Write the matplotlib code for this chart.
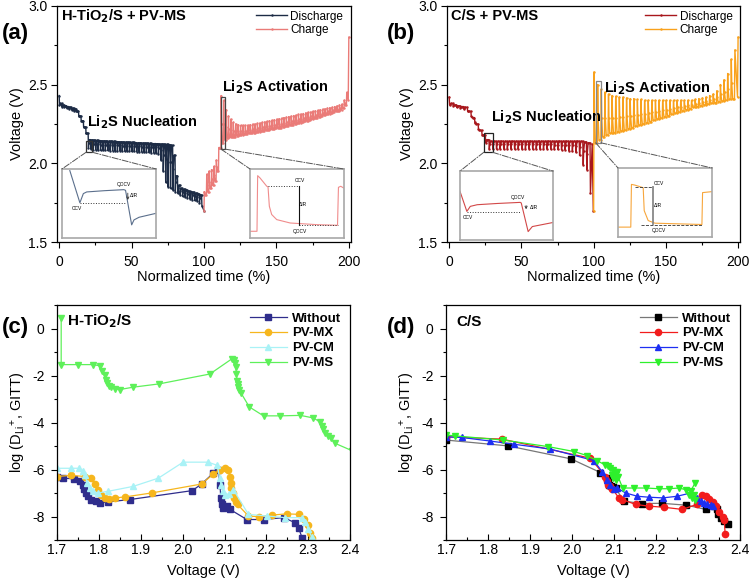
import numpy as np
import matplotlib.pyplot as plt
from matplotlib.patches import Rectangle, ConnectionPatch
from matplotlib.ticker import MultipleLocator

plt.rcParams['font.family'] = ['Liberation Sans', 'DejaVu Sans']
plt.rcParams['axes.unicode_minus'] = False
plt.rcParams['mathtext.default'] = 'regular'

# ---------------- GITT voltage profiles (a) H-TiO2/S + PV-MS ----------------
a_step = 100 / 60
# discharge: rest voltage before each pulse, voltage at end of pulse
a_dis_rest = [2.43, 2.38, 2.37, 2.365, 2.36, 2.355, 2.35, 2.345, 2.33, 2.30,
              2.27, 2.23, 2.19, 2.15, 2.148, 2.146, 2.145, 2.144, 2.143, 2.142,
              2.141, 2.14, 2.14, 2.139, 2.138, 2.137, 2.136, 2.135, 2.135, 2.134,
              2.133, 2.132, 2.131, 2.13, 2.13, 2.129, 2.128, 2.127, 2.126, 2.125,
              2.125, 2.124, 2.123, 2.122, 2.12, 2.12, 2.118, 2.115, 2.05, 1.92,
              1.86, 1.84, 1.835, 1.83, 1.825, 1.82, 1.815, 1.81, 1.805, 1.80]
a_dis_pulse = [2.37, 2.36, 2.355, 2.35, 2.345, 2.34, 2.335, 2.33, 2.30, 2.27,
               2.23, 2.19, 2.10, 2.09, 2.085, 2.085, 2.084, 2.083, 2.083, 2.082,
               2.082, 2.081, 2.08, 2.08, 2.079, 2.079, 2.078, 2.077, 2.077, 2.076,
               2.075, 2.075, 2.074, 2.073, 2.072, 2.071, 2.07, 2.069, 2.068, 2.066,
               2.065, 2.06, 2.02, 1.95, 1.88, 1.85, 1.84, 1.83, 1.82, 1.81,
               1.80, 1.79, 1.785, 1.78, 1.775, 1.77, 1.765, 1.76, 1.75, 1.73]
a_dis_end_t = [100.0]
a_dis_end_v = [1.70]
# charge
a_chg_rest = [1.70, 1.80, 1.82, 1.84, 1.86, 1.89, 1.95, 2.10, 2.13, 2.15,
              2.16, 2.165, 2.17, 2.17, 2.175, 2.178, 2.18, 2.183, 2.186, 2.19,
              2.192, 2.195, 2.198, 2.20, 2.203, 2.206, 2.209, 2.212, 2.215, 2.218,
              2.221, 2.224, 2.227, 2.23, 2.234, 2.238, 2.242, 2.246, 2.25, 2.254,
              2.258, 2.262, 2.266, 2.27, 2.275, 2.28, 2.285, 2.29, 2.295, 2.30,
              2.305, 2.31, 2.315, 2.32, 2.325, 2.33, 2.335, 2.34, 2.35, 2.37]
a_chg_pulse = [1.82, 1.93, 1.95, 1.96, 1.98, 2.02, 2.10, 2.43, 2.40, 2.34,
               2.30, 2.28, 2.26, 2.25, 2.245, 2.24, 2.24, 2.24, 2.242, 2.245,
               2.248, 2.25, 2.253, 2.256, 2.26, 2.263, 2.266, 2.27, 2.273, 2.276,
               2.28, 2.283, 2.286, 2.29, 2.293, 2.296, 2.30, 2.303, 2.306, 2.31,
               2.313, 2.316, 2.32, 2.323, 2.326, 2.33, 2.333, 2.336, 2.34, 2.343,
               2.346, 2.35, 2.353, 2.356, 2.36, 2.365, 2.37, 2.375, 2.40, 2.45]
a_chg_end_t = [199.6, 200.0]
a_chg_end_v = [2.40, 2.80]

# ---------------- GITT voltage profiles (b) C/S + PV-MS ----------------
b_step = 2.5
b_dis_rest = [2.42, 2.38, 2.37, 2.365, 2.36, 2.355, 2.33, 2.29, 2.25, 2.21,
              2.18, 2.15, 2.14, 2.14, 2.14, 2.14, 2.14, 2.14, 2.14, 2.14,
              2.14, 2.14, 2.14, 2.14, 2.14, 2.14, 2.14, 2.14, 2.14, 2.14,
              2.14, 2.14, 2.14, 2.14, 2.14, 2.14, 2.14, 2.14, 2.135, 2.13]
b_dis_pulse = [2.37, 2.365, 2.355, 2.35, 2.345, 2.33, 2.30, 2.26, 2.22, 2.18,
               2.13, 2.09, 2.09, 2.09, 2.09, 2.09, 2.09, 2.09, 2.09, 2.09,
               2.09, 2.09, 2.09, 2.09, 2.09, 2.09, 2.09, 2.09, 2.09, 2.088,
               2.088, 2.085, 2.085, 2.08, 2.075, 2.07, 2.05, 1.99, 1.96, 1.81]
b_dis_end_t = [99.0, 99.8]
b_dis_end_v = [2.12, 1.70]
b_chg_rest = [1.70, 2.13, 2.15, 2.17, 2.18, 2.19, 2.195, 2.20, 2.205, 2.21,
              2.22, 2.227, 2.235, 2.242, 2.25, 2.257, 2.265, 2.272, 2.28, 2.287,
              2.295, 2.30, 2.31, 2.317, 2.325, 2.332, 2.34, 2.347, 2.355, 2.36,
              2.365, 2.37, 2.375, 2.38, 2.385, 2.39, 2.395, 2.40, 2.405, 2.41]
b_chg_pulse = [2.58, 2.50, 2.47, 2.45, 2.44, 2.43, 2.425, 2.42, 2.42, 2.415,
               2.41, 2.41, 2.405, 2.405, 2.40, 2.40, 2.40, 2.40, 2.40, 2.40,
               2.40, 2.40, 2.40, 2.40, 2.40, 2.40, 2.40, 2.40, 2.405, 2.41,
               2.415, 2.42, 2.43, 2.44, 2.46, 2.50, 2.53, 2.57, 2.66, 2.72]
b_chg_end_t = [199.6, 200.0]
b_chg_end_v = [2.42, 2.80]

# ---------------- inset schematics (axes fraction units) ----------------
ins_a_dis_x = [0.083, 0.19, 0.227, 0.263, 0.45, 0.658, 0.676, 0.741, 0.766, 0.82, 1.0]
ins_a_dis_y = [0.976, 0.51, 0.643, 0.667, 0.685, 0.70, 0.69, 0.19, 0.262, 0.30, 0.357]
ins_a_chg_x = [0.0, 0.075, 0.082, 0.107, 0.179, 0.193, 0.207, 0.232, 0.286, 0.43, 0.714, 0.936, 0.946, 0.971, 1.0]
ins_a_chg_y = [0.097, 0.097, 0.903, 0.87, 0.75, 0.74, 0.46, 0.34, 0.266, 0.217, 0.193, 0.184, 0.734, 0.749, 0.725]
ins_b_dis_x = [0.0, 0.074, 0.111, 0.185, 0.40, 0.648, 0.659, 0.733, 0.778, 1.0]
ins_b_dis_y = [0.707, 0.415, 0.488, 0.512, 0.53, 0.546, 0.537, 0.122, 0.195, 0.254]
ins_b_chg_x = [0.0, 0.136, 0.143, 0.179, 0.268, 0.279, 0.321, 0.393, 0.893, 0.90, 1.0]
ins_b_chg_y = [0.143, 0.143, 0.762, 0.752, 0.714, 0.381, 0.238, 0.20, 0.181, 0.643, 0.657]

# ---------------- (c) H-TiO2/S diffusion coefficients ----------------
c_wo_x = [1.700, 1.714, 1.740, 1.754, 1.761, 1.764, 1.769, 1.774, 1.782, 1.794, 1.802, 1.822, 1.874,
          2.023, 2.045, 2.073, 2.085, 2.089, 2.091, 2.093, 2.096, 2.105, 2.113, 2.153, 2.193, 2.241,
          2.269, 2.277, 2.285]
c_wo_y = [-6.33, -6.36, -6.39, -6.50, -6.64, -6.81, -6.99, -7.13, -7.27, -7.34, -7.41, -7.37, -7.27,
          -6.89, -6.61, -6.15, -6.00, -6.64, -7.20, -7.48, -7.62, -7.55, -7.69, -8.12, -8.12, -8.04,
          -8.26, -8.50, -8.89]
c_mx_x = [1.700, 1.734, 1.766, 1.782, 1.790, 1.798, 1.806, 1.814, 1.824, 1.838, 1.862, 1.926, 2.045,
          2.073, 2.089, 2.101, 2.109, 2.113, 2.115, 2.116, 2.119, 2.123, 2.127, 2.131, 2.157, 2.181,
          2.213, 2.249, 2.277, 2.290, 2.298, 2.303, 2.308]
c_mx_y = [-6.29, -6.24, -6.29, -6.36, -6.61, -6.85, -7.06, -7.20, -7.23, -7.20, -7.16, -6.99, -6.61,
          -6.19, -6.00, -5.94, -6.00, -6.29, -6.57, -6.78, -6.99, -7.20, -7.37, -7.48, -7.97, -8.00,
          -7.93, -7.88, -7.90, -8.09, -8.35, -8.68, -8.92]
c_cm_x = [1.700, 1.734, 1.753, 1.762, 1.767, 1.772, 1.778, 1.786, 1.798, 1.822, 1.882, 1.942, 2.001,
          2.061, 2.083, 2.088, 2.092, 2.096, 2.101, 2.111, 2.121, 2.157, 2.201, 2.245, 2.285, 2.293,
          2.300, 2.308, 2.316]
c_cm_y = [-5.94, -5.94, -5.94, -6.05, -6.24, -6.57, -6.78, -6.92, -6.99, -6.92, -6.71, -6.36, -5.68,
          -5.68, -5.82, -6.36, -6.64, -6.92, -7.06, -7.03, -6.85, -7.90, -7.97, -8.04, -8.04, -8.21,
          -8.54, -8.86, -9.10]
c_ms_x = [1.710, 1.710, 1.750, 1.786, 1.802, 1.808, 1.814, 1.816, 1.820, 1.824, 1.830, 1.838, 1.850,
          1.882, 1.944, 2.065, 2.117, 2.123, 2.125, 2.127, 2.128, 2.130, 2.131, 2.133, 2.135, 2.139,
          2.159, 2.193, 2.233, 2.281, 2.312, 2.328, 2.333, 2.336, 2.340, 2.348, 2.355, 2.364, 2.404]
c_ms_y = [0.46, -1.53, -1.53, -1.53, -1.58, -1.79, -1.97, -2.17, -2.31, -2.42, -2.49, -2.56, -2.59,
          -2.49, -2.35, -1.93, -1.29, -1.32, -1.46, -1.65, -1.93, -2.21, -2.35, -2.49, -2.63, -2.73,
          -3.33, -3.71, -3.71, -3.69, -3.80, -3.97, -4.14, -4.29, -4.43, -4.56, -4.67, -4.88, -5.19]

# ---------------- (d) C/S diffusion coefficients ----------------
d_wo_x = [1.700, 1.848, 1.997, 2.067, 2.083, 2.085, 2.088, 2.092, 2.096, 2.103, 2.123, 2.167, 2.213,
          2.272, 2.318, 2.338, 2.344, 2.348, 2.354, 2.362, 2.371]
d_wo_y = [-4.74, -4.99, -5.54, -6.12, -6.36, -6.50, -6.64, -6.71, -6.75, -6.78, -7.34, -7.44, -7.43,
          -7.51, -7.69, -7.55, -7.69, -7.88, -8.04, -8.19, -8.33]
d_mx_x = [1.700, 1.833, 2.043, 2.079, 2.082, 2.085, 2.089, 2.095, 2.111, 2.119, 2.151, 2.182, 2.219,
          2.262, 2.296, 2.310, 2.318, 2.326, 2.334, 2.342, 2.350, 2.358, 2.362, 2.364]
d_mx_y = [-4.60, -4.70, -5.51, -6.29, -6.50, -6.64, -6.71, -6.81, -7.20, -7.27, -7.48, -7.55, -7.60,
          -7.69, -7.48, -7.06, -7.13, -7.23, -7.37, -7.55, -7.79, -8.02, -8.12, -8.75]
d_cm_x = [1.700, 1.737, 1.804, 1.862, 1.947, 2.051, 2.071, 2.083, 2.091, 2.099, 2.107, 2.127, 2.155,
          2.182, 2.216, 2.250, 2.282, 2.298, 2.306, 2.314, 2.322, 2.330, 2.336]
d_cm_y = [-4.60, -4.63, -4.78, -4.92, -5.12, -5.61, -6.08, -6.43, -6.64, -6.81, -6.78, -6.99, -7.13,
          -7.17, -7.20, -7.13, -6.99, -7.20, -7.34, -7.41, -7.48, -7.52, -7.55]
d_ms_x = [1.700, 1.720, 1.836, 1.943, 2.005, 2.035, 2.059, 2.077, 2.085, 2.091, 2.096, 2.101, 2.104,
          2.106, 2.103, 2.096, 2.095, 2.099, 2.107, 2.109, 2.120, 2.147, 2.175, 2.206, 2.230, 2.254,
          2.270, 2.282, 2.290, 2.292, 2.285, 2.278, 2.292]
d_ms_y = [-4.53, -4.56, -4.74, -5.02, -5.23, -5.40, -5.61, -5.79, -5.86, -5.94, -6.00, -6.08, -6.19,
          -6.33, -6.43, -6.36, -6.22, -6.15, -6.08, -6.29, -6.78, -6.78, -6.78, -6.81, -6.81, -6.78,
          -6.85, -6.92, -7.09, -7.27, -7.20, -7.06, -6.57]

series_names = ['Without', 'PV-MX', 'PV-CM', 'PV-MS']


def gitt_trace(t0, step, rest, pulse, w, end_t, end_v):
    # pulse -> IR jump back -> slow relaxation to the next rest voltage
    t, v = [], []
    n = len(rest)
    for i in range(n):
        ti = t0 + i * step
        t += [ti, ti + w]
        v += [rest[i], pulse[i]]
        if i < n - 1:
            nxt = rest[i + 1]
            t += [ti + 2 * w, ti + 4 * w]
            v += [pulse[i] + 0.6 * (nxt - pulse[i]), nxt]
    return t + end_t, v + end_v


def style_axes(ax, xdir='out', xpad=5):
    ax.tick_params(axis='y', which='major', direction='out', labelsize=10, length=4, width=0.8,
                   right=False, pad=3)
    ax.tick_params(axis='y', which='minor', direction='out', length=2.5, width=0.8, right=False)
    ax.tick_params(axis='x', which='major', direction=xdir, labelsize=10, length=4, width=0.8,
                   top=False, pad=xpad)
    ax.tick_params(axis='x', which='minor', direction=xdir, length=2.5, width=0.8, top=False)
    for s in ax.spines.values():
        s.set_linewidth(0.9)


def add_inset(rect, xs, ys, color):
    ins = fig.add_axes(rect)
    ins.plot(xs, ys, color=color, lw=0.8)
    ins.set_xlim(0, 1)
    ins.set_ylim(0, 1)
    ins.set_xticks([])
    ins.set_yticks([])
    for s in ins.spines.values():
        s.set_color('#a8a8a8')
        s.set_linewidth(1.2)
    return ins


fig = plt.figure(figsize=(7.5, 5.79), dpi=100)

# ======================= panel (a) =======================
ax_a = fig.add_axes([0.076, 0.582, 0.392, 0.408])
t, v = gitt_trace(0, a_step, a_dis_rest, a_dis_pulse, 0.22, a_dis_end_t, a_dis_end_v)
ax_a.plot(t, v, color='#1c2b45', lw=1.0, marker='.', ms=1.5, label='Discharge')
t, v = gitt_trace(100, a_step, a_chg_rest, a_chg_pulse, 0.22, a_chg_end_t, a_chg_end_v)
ax_a.plot(t, v, color='#ea7b78', lw=1.0, marker='.', ms=1.5, label='Charge')
ax_a.set_xlim(-1.5, 201.5)
ax_a.set_ylim(1.5, 3.0)
ax_a.xaxis.set_major_locator(MultipleLocator(50))
ax_a.xaxis.set_minor_locator(MultipleLocator(25))
ax_a.yaxis.set_major_locator(MultipleLocator(0.5))
ax_a.yaxis.set_minor_locator(MultipleLocator(0.25))
style_axes(ax_a)
ax_a.set_xlabel('Normalized time (%)', fontsize=10.5, labelpad=1)
ax_a.set_ylabel('Voltage (V)', fontsize=10.5, labelpad=3)
ax_a.legend(loc='upper right', bbox_to_anchor=(1.01, 1.025), frameon=False, fontsize=8.5,
            handlelength=2.6, handletextpad=0.3, labelspacing=0.15)
ax_a.text(0.015, 0.955, r'H-TiO$_\mathbf{2}$/S + PV-MS', transform=ax_a.transAxes,
          fontsize=10.5, weight='bold', va='center')
ax_a.text(19.5, 2.26, r'Li$_\mathbf{2}$S Nucleation', fontsize=10.5, weight='bold', va='center')
ax_a.text(112.5, 2.485, r'Li$_\mathbf{2}$S Activation', fontsize=10.5, weight='bold', va='center')
ax_a.add_patch(Rectangle((18.6, 2.07), 4.2, 0.07, fill=False, ec='#333333', lw=0.9, zorder=5))
ax_a.add_patch(Rectangle((111.7, 2.09), 2.8, 0.33, fill=False, ec='#444444', lw=0.9, zorder=5))

ins1 = add_inset([0.0827, 0.589, 0.1253, 0.1192], ins_a_dis_x, ins_a_dis_y, '#5b6f8c')
ins1.plot([0.19, 0.676], [0.51, 0.51], ls=':', color='#333333', lw=0.7)
ins1.annotate('', xy=(0.70, 0.51), xytext=(0.70, 0.69),
              arrowprops=dict(arrowstyle='->', lw=0.6, color='#333333', mutation_scale=4))
ins1.text(0.66, 0.77, 'QOCV', fontsize=3.5, ha='center', va='center')
ins1.text(0.16, 0.43, 'CCV', fontsize=3.5, ha='center', va='center')
ins1.text(0.77, 0.61, 'ΔIR', fontsize=3.5, ha='center', va='center')

ins2 = add_inset([0.3333, 0.589, 0.1247, 0.1192], ins_a_chg_x, ins_a_chg_y, '#f08c8c')
ins2.plot([0.19, 0.52], [0.749, 0.749], ls=':', color='#333333', lw=0.7)
ins2.plot([0.52, 0.52], [0.749, 0.184], color='#111111', lw=0.8)
ins2.plot([0.52, 0.94], [0.184, 0.184], ls=':', color='#333333', lw=0.7)
ins2.text(0.53, 0.83, 'CCV', fontsize=3.5, ha='center', va='center')
ins2.text(0.57, 0.48, 'ΔIR', fontsize=3.5, ha='center', va='center')
ins2.text(0.53, 0.10, 'QOCV', fontsize=3.5, ha='center', va='center')

for xy, ins, corner in [((18.6, 2.07), ins1, (0, 1)), ((22.8, 2.07), ins1, (1, 1)),
                        ((111.7, 2.09), ins2, (0, 1)), ((114.5, 2.09), ins2, (1, 1))]:
    fig.add_artist(ConnectionPatch(xyA=xy, coordsA=ax_a.transData, xyB=corner,
                                   coordsB=ins.transAxes, ls='-.', color='#555555', lw=0.7))

# ======================= panel (b) =======================
ax_b = fig.add_axes([0.596, 0.582, 0.391, 0.408])
t, v = gitt_trace(0, b_step, b_dis_rest, b_dis_pulse, 0.3, b_dis_end_t, b_dis_end_v)
ax_b.plot(t, v, color='#a8171c', lw=1.0, marker='.', ms=1.5, label='Discharge')
t, v = gitt_trace(100, b_step, b_chg_rest, b_chg_pulse, 0.3, b_chg_end_t, b_chg_end_v)
ax_b.plot(t, v, color='#f9a11b', lw=1.0, marker='.', ms=1.5, label='Charge')
ax_b.set_xlim(-1.5, 201.5)
ax_b.set_ylim(1.5, 3.0)
ax_b.xaxis.set_major_locator(MultipleLocator(50))
ax_b.xaxis.set_minor_locator(MultipleLocator(25))
ax_b.yaxis.set_major_locator(MultipleLocator(0.5))
ax_b.yaxis.set_minor_locator(MultipleLocator(0.25))
style_axes(ax_b)
ax_b.set_xlabel('Normalized time (%)', fontsize=10.5, labelpad=1)
ax_b.set_ylabel('Voltage (V)', fontsize=10.5, labelpad=3)
ax_b.legend(loc='upper right', bbox_to_anchor=(1.01, 1.025), frameon=False, fontsize=8.5,
            handlelength=2.6, handletextpad=0.3, labelspacing=0.15)
ax_b.text(0.015, 0.955, 'C/S + PV-MS', transform=ax_b.transAxes,
          fontsize=10.5, weight='bold', va='center')
ax_b.text(29, 2.29, r'Li$_\mathbf{2}$S Nucleation', fontsize=10.5, weight='bold', va='center')
ax_b.text(107, 2.475, r'Li$_\mathbf{2}$S Activation', fontsize=10.5, weight='bold', va='center')
ax_b.add_patch(Rectangle((24, 2.07), 6, 0.12, fill=False, ec='#222222', lw=0.9, zorder=5))
ax_b.add_patch(Rectangle((101.4, 2.13), 3.6, 0.39, fill=False, ec='#888888', lw=0.9, zorder=5))

ins3 = add_inset([0.6133, 0.5855, 0.124, 0.119], ins_b_dis_x, ins_b_dis_y, '#d24848')
ins3.plot([0.074, 0.66], [0.405, 0.405], ls=':', color='#333333', lw=0.7)
ins3.annotate('', xy=(0.711, 0.405), xytext=(0.711, 0.54),
              arrowprops=dict(arrowstyle='->', lw=0.6, color='#333333', mutation_scale=4))
ins3.text(0.09, 0.33, 'CCV', fontsize=3.5, ha='center', va='center')
ins3.text(0.62, 0.61, 'QOCV', fontsize=3.5, ha='center', va='center')
ins3.text(0.79, 0.47, 'ΔIR', fontsize=3.5, ha='center', va='center')

ins4 = add_inset([0.824, 0.5907, 0.1253, 0.1192], ins_b_chg_x, ins_b_chg_y, '#f7a63c')
ins4.plot([0.179, 0.375], [0.724, 0.724], ls='--', color='#333333', lw=0.6)
ins4.plot([0.375, 0.375], [0.724, 0.195], color='#888888', lw=1.3)
ins4.plot([0.25, 0.893], [0.167, 0.167], ls='--', color='#333333', lw=0.6)
ins4.text(0.43, 0.77, 'CCV', fontsize=3.5, ha='center', va='center')
ins4.text(0.43, 0.45, 'ΔIR', fontsize=3.5, ha='center', va='center')
ins4.text(0.43, 0.09, 'QOCV', fontsize=3.5, ha='center', va='center')

for xy, ins, corner in [((24, 2.07), ins3, (0, 1)), ((30, 2.07), ins3, (1, 1)),
                        ((101.4, 2.13), ins4, (0, 1)), ((105, 2.13), ins4, (1, 1))]:
    fig.add_artist(ConnectionPatch(xyA=xy, coordsA=ax_b.transData, xyB=corner,
                                   coordsB=ins.transAxes, ls='-.', color='#555555', lw=0.7))

# ======================= panel (c) =======================
ax_c = fig.add_axes([0.076, 0.067, 0.391, 0.406])
c_series = [(c_wo_x, c_wo_y, '#2f2d8c', '#2f2d8c', 's'),
            (c_mx_x, c_mx_y, '#f6b61d', '#f6b61d', 'o'),
            (c_cm_x, c_cm_y, '#a9f2f6', '#a9f2f6', '^'),
            (c_ms_x, c_ms_y, '#5ef05a', '#5ef05a', 'v')]
for (xs, ys, mc, lc, mk), name in zip(c_series, series_names):
    ax_c.plot(xs, ys, color=lc, lw=0.9, marker=mk, ms=4.5, mfc=mc, mec=mc, label=name)

# ======================= panel (d) =======================
ax_d = fig.add_axes([0.595, 0.067, 0.392, 0.406])
d_series = [(d_wo_x, d_wo_y, '#000000', '#777777', 's'),
            (d_mx_x, d_mx_y, '#f21c1c', '#f21c1c', 'o'),
            (d_cm_x, d_cm_y, '#1d2ff2', '#1d2ff2', '^'),
            (d_ms_x, d_ms_y, '#2ef02c', '#2ef02c', 'v')]
for (xs, ys, mc, lc, mk), name in zip(d_series, series_names):
    ax_d.plot(xs, ys, color=lc, lw=0.9, marker=mk, ms=4.5, mfc=mc, mec=mc, label=name)

for ax, title in [(ax_c, r'H-TiO$_\mathbf{2}$/S'), (ax_d, 'C/S')]:
    ax.set_xlim(1.7, 2.4)
    ax.set_ylim(-9, 1)
    ax.xaxis.set_major_locator(MultipleLocator(0.1))
    ax.xaxis.set_minor_locator(MultipleLocator(0.05))
    ax.yaxis.set_major_locator(MultipleLocator(2))
    ax.yaxis.set_minor_locator(MultipleLocator(1))
    style_axes(ax, xdir='in', xpad=2)
    ax.tick_params(axis='y', pad=5)
    ax.set_xlabel('Voltage (V)', fontsize=10.5, labelpad=5)
    ax.set_ylabel(r'log (D$_{Li}$$^{+}$, GITT)', fontsize=10.5, labelpad=3)
    ax.legend(loc='upper right', bbox_to_anchor=(1.01, 1.02), frameon=False,
              prop={'weight': 'bold', 'size': 9.5}, handlelength=2.8,
              handletextpad=0.4, labelspacing=0.2)
    ax.text(0.035, 0.93, title, transform=ax.transAxes, fontsize=11, weight='bold', va='center')

# panel letters
fig.text(0.003, 1 - 33 / 579, '(a)', fontsize=16, weight='bold', va='center')
fig.text(0.516, 1 - 33 / 579, '(b)', fontsize=16, weight='bold', va='center')
fig.text(0.003, 1 - 328 / 579, '(c)', fontsize=16, weight='bold', va='center')
fig.text(0.516, 1 - 328 / 579, '(d)', fontsize=16, weight='bold', va='center')

fig.savefig('out.png', dpi=100)
